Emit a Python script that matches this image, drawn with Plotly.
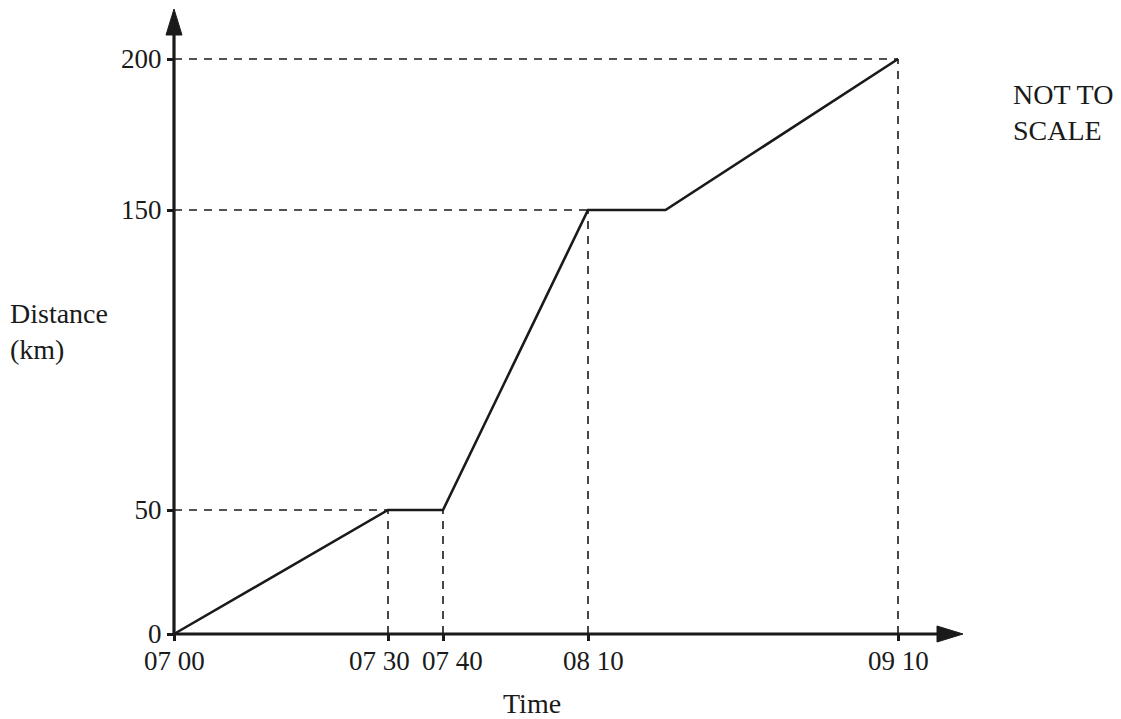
import numpy as np
import plotly.graph_objects as go

# Journey data: time after 07 00 (minutes) and distance travelled (km)
times_min = [0, 30, 40, 70, 85, 130]
distance_km = [0, 50, 50, 150, 150, 200]

# Labelled axis values
x_tick_min = [0, 30, 40, 70, 130]
x_tick_labels = ["07 00", "07 30", "07 40", "08 10", "09 10"]
y_tick_km = [0, 50, 150, 200]
y_tick_labels = ["0", "50", "150", "200"]

# The graph is drawn NOT TO SCALE: piecewise display scales for each axis
X_SCALE_KEYS = [0, 30, 40, 70, 130]
X_SCALE_POS = [0, 214, 269, 414, 724]
Y_SCALE_KEYS = [0, 50, 150, 200]
Y_SCALE_POS = [0, 124, 424, 575]
# horizontal nudges keeping the crowded time labels apart
X_LABEL_NUDGE = [0, -9, 9, 5, 0]


def sx(v):
    return np.interp(v, X_SCALE_KEYS, X_SCALE_POS)


def sy(v):
    return np.interp(v, Y_SCALE_KEYS, Y_SCALE_POS)


W, H = 1121, 719
ORIGIN_PX = (174, 634)
X_RANGE = [-ORIGIN_PX[0], W - ORIGIN_PX[0]]
Y_RANGE = [ORIGIN_PX[1] - H, ORIGIN_PX[1]]

FONT = "'Liberation Serif', 'Times New Roman', 'DejaVu Serif', serif"
INK = "#1a1a1a"

fig = go.Figure()

# Dashed guide lines from each labelled point to both axes
dash = dict(color=INK, width=1.6, dash="8px,7px")
for t, d in [(30, 50), (40, 50), (70, 150), (130, 200)]:
    fig.add_trace(go.Scatter(x=[sx(t), sx(t)], y=[0, sy(d)], mode="lines",
                             line=dash, hoverinfo="skip", showlegend=False))
for t, d in [(30, 50), (70, 150), (130, 200)]:
    fig.add_trace(go.Scatter(x=[0, sx(t)], y=[sy(d), sy(d)], mode="lines",
                             line=dash, hoverinfo="skip", showlegend=False))

# Distance-time line
fig.add_trace(go.Scatter(x=sx(times_min), y=sy(distance_km), mode="lines",
                         line=dict(color=INK, width=2.6), showlegend=False))

# Axis lines with arrowheads
x_end = 789
y_end = 625
head_len, head_half = 26, 8
fig.add_shape(type="line", x0=0, y0=0, x1=x_end - head_len + 2, y1=0,
              line=dict(color=INK, width=3.2))
fig.add_shape(type="line", x0=0, y0=0, x1=0, y1=y_end - head_len + 2,
              line=dict(color=INK, width=3.2))
fig.add_shape(type="path",
              path=f"M {x_end} 0 L {x_end - head_len} {head_half} L {x_end - head_len} {-head_half} Z",
              fillcolor=INK, line=dict(color=INK, width=1))
fig.add_shape(type="path",
              path=f"M 0 {y_end} L {head_half} {y_end - head_len} L {-head_half} {y_end - head_len} Z",
              fillcolor=INK, line=dict(color=INK, width=1))

tick_font = dict(family=FONT, size=27, color=INK)
fig.update_layout(
    width=W, height=H,
    margin=dict(l=0, r=0, t=0, b=0),
    paper_bgcolor="white", plot_bgcolor="white",
    showlegend=False,
    font=dict(family=FONT, color=INK),
    xaxis=dict(range=X_RANGE, domain=[0, 1], anchor="free",
               position=(H - ORIGIN_PX[1]) / H,
               tickvals=sx(x_tick_min), showticklabels=False,
               ticks="outside", ticklen=6, tickwidth=3, tickcolor=INK,
               showgrid=False, zeroline=False, showline=False, fixedrange=True),
    yaxis=dict(range=Y_RANGE, domain=[0, 1], anchor="free",
               position=ORIGIN_PX[0] / W,
               tickvals=sy(y_tick_km), ticktext=y_tick_labels,
               ticks="outside", ticklen=7, tickwidth=3, tickcolor=INK,
               showgrid=False, zeroline=False, showline=False,
               tickfont=tick_font, fixedrange=True),
)

# Time labels under the axis
for t, lab, nudge in zip(x_tick_min, x_tick_labels, X_LABEL_NUDGE):
    fig.add_annotation(x=sx(t), y=0, text=lab, showarrow=False,
                       xanchor="center", yanchor="middle",
                       xshift=nudge, yshift=-27, font=tick_font)

label_font = dict(family=FONT, size=28, color=INK)
fig.add_annotation(text="Distance<br>(km)", x=8 / W, y=(H - 331) / H, xref="paper", yref="paper",
                   xanchor="left", yanchor="middle", align="left", showarrow=False,
                   font=label_font)
fig.add_annotation(text="Time", x=532 / W, y=(H - 703) / H, xref="paper", yref="paper",
                   xanchor="center", yanchor="middle", showarrow=False, font=label_font)
fig.add_annotation(text="NOT TO<br>SCALE", x=1011 / W, y=(H - 112) / H, xref="paper", yref="paper",
                   xanchor="left", yanchor="middle", align="left", showarrow=False,
                   font=label_font)

fig.write_html("out.html")
